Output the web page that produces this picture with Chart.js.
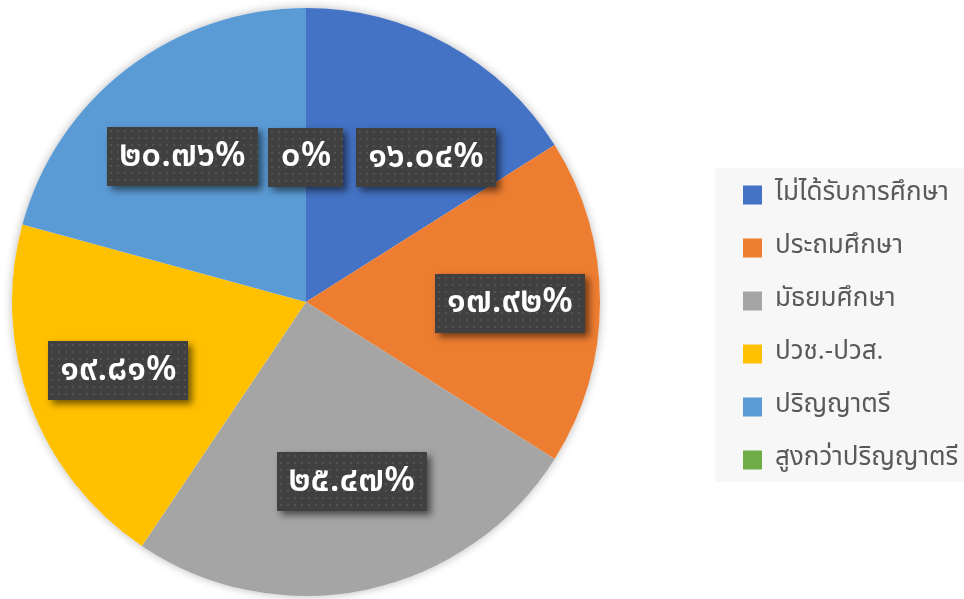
<!DOCTYPE html>
<html>
<head>
<meta charset="utf-8">
<script src="https://cdn.jsdelivr.net/npm/chart.js@4.4.1/dist/chart.umd.min.js"></script>
<style>
  html, body { margin: 0; padding: 0; background: #ffffff; }
  #wrap { width: 964px; height: 599px; position: relative; }
</style>
</head>
<body>
<div id="wrap"><canvas id="c" width="964" height="599"></canvas></div>
<script>
// ---- data ----
const categories = ['ไม่ได้รับการศึกษา', 'ประถมศึกษา', 'มัธยมศึกษา', 'ปวช.-ปวส.', 'ปริญญาตรี', 'สูงกว่าปริญญาตรี'];
const values = [16.04, 17.92, 25.47, 19.81, 20.76, 0];
const valueLabels = ['๑๖.๐๔%', '๑๗.๙๒%', '๒๕.๔๗%', '๑๙.๘๑%', '๒๐.๗๖%', '๐%'];
const colors = ['#4472C4', '#ED7D31', '#A5A5A5', '#FFC000', '#5B9BD5', '#70AD47'];

// ---- style / layout constants ----
const FONT_FAMILY = '"Noto Sans Thai", "Noto Sans", "DejaVu Sans", sans-serif';
const LABEL_FONT = '600 35px ' + FONT_FAMILY;
const LABEL_RADIUS = 0.67;
const labelNudges = [[25, 28], [7, 1], [5, -13], [-3, 0], [-4, 11], [0, 52]];
const LEGEND_W = 364;
const LEGEND_ITEM_X = 743;
const LEGEND_FIRST_Y = 195;
const LEGEND_FONT = 26;
const LEGEND_PAD = 27;

function makePattern(ctx) {
  const p = document.createElement('canvas');
  p.width = 7; p.height = 7;
  const pc = p.getContext('2d');
  pc.fillStyle = '#404040';
  pc.fillRect(0, 0, 7, 7);
  pc.fillStyle = '#525252';
  pc.fillRect(3, 3, 2, 2);
  return ctx.createPattern(p, 'repeat');
}

const layoutFix = {
  id: 'layoutFix',
  beforeInit(chart) {
    const lg = chart.legend;
    const orig = lg.fit.bind(lg);
    lg.fit = function () { orig(); this.width = LEGEND_W; };
  },
  afterUpdate(chart) {
    const lg = chart.legend;
    const hb = lg.legendHitBoxes;
    if (!hb || !hb.length) return;
    const dx = LEGEND_ITEM_X - hb[0].left;
    const dy = LEGEND_FIRST_Y - (hb[0].top + hb[0].height / 2);
    lg.left += dx; lg.right += dx;
    lg.top += dy; lg.bottom += dy;
    hb.forEach(h => { h.left += dx; h.top += dy; });
  },
  beforeDraw(chart) {
    const lg = chart.legend;
    const hb = lg.legendHitBoxes;
    if (!hb || !hb.length) return;
    const ctx = chart.ctx;
    const first = hb[0], last = hb[hb.length - 1];
    const c0 = first.top + first.height / 2;
    const c1 = last.top + last.height / 2;
    ctx.save();
    ctx.fillStyle = '#f7f7f7';
    const x0 = first.left - 28;
    const y0 = c0 - 27;
    ctx.fillRect(x0, y0, chart.width - x0, c1 + 22 - y0);
    ctx.restore();
  },
  beforeDatasetsDraw(chart) {
    const arc = chart.getDatasetMeta(0).data[0];
    if (!arc) return;
    const ctx = chart.ctx;
    ctx.save();
    ctx.shadowColor = 'rgba(0,0,0,0.28)';
    ctx.shadowBlur = 10;
    ctx.fillStyle = '#ffffff';
    ctx.beginPath();
    ctx.arc(arc.x, arc.y, arc.outerRadius, 0, Math.PI * 2);
    ctx.fill();
    ctx.restore();
  },
  afterDatasetsDraw(chart) {
    const ctx = chart.ctx;
    const meta = chart.getDatasetMeta(0);
    const pattern = makePattern(ctx);
    ctx.save();
    ctx.font = LABEL_FONT;
    meta.data.forEach((arc, i) => {
      const mid = (arc.startAngle + arc.endAngle) / 2;
      const r = arc.outerRadius * LABEL_RADIUS;
      const cx = arc.x + Math.cos(mid) * r + labelNudges[i][0];
      const cy = arc.y + Math.sin(mid) * r + labelNudges[i][1];
      const text = valueLabels[i];
      const tw = ctx.measureText(text).width;
      const w = Math.round(tw + 24), h = 59;
      const x = Math.round(cx - w / 2), y = Math.round(cy - h / 2);
      ctx.save();
      ctx.shadowColor = 'rgba(0,0,0,0.55)';
      ctx.shadowBlur = 7;
      ctx.shadowOffsetX = 4;
      ctx.shadowOffsetY = 4;
      ctx.fillStyle = '#404040';
      ctx.fillRect(x, y, w, h);
      ctx.restore();
      ctx.save();
      ctx.translate(x, y);
      ctx.fillStyle = pattern;
      ctx.fillRect(0, 0, w, h);
      ctx.restore();
      ctx.fillStyle = '#ffffff';
      ctx.textAlign = 'center';
      ctx.textBaseline = 'middle';
      ctx.fillText(text, cx, cy + 2);
    });
    ctx.restore();
  }
};

new Chart(document.getElementById('c'), {
  type: 'pie',
  data: {
    labels: categories,
    datasets: [{
      data: values,
      backgroundColor: colors,
      borderWidth: 0
    }]
  },
  options: {
    responsive: false,
    animation: false,
    layout: { padding: { left: 12, top: 8, bottom: 3, right: 0 } },
    plugins: {
      tooltip: { enabled: false },
      legend: {
        position: 'right',
        labels: {
          boxWidth: 19,
          boxHeight: 19,
          padding: LEGEND_PAD,
          color: '#595959',
          font: { size: LEGEND_FONT, family: FONT_FAMILY }
        }
      }
    }
  },
  plugins: [layoutFix]
});
</script>
</body>
</html>
